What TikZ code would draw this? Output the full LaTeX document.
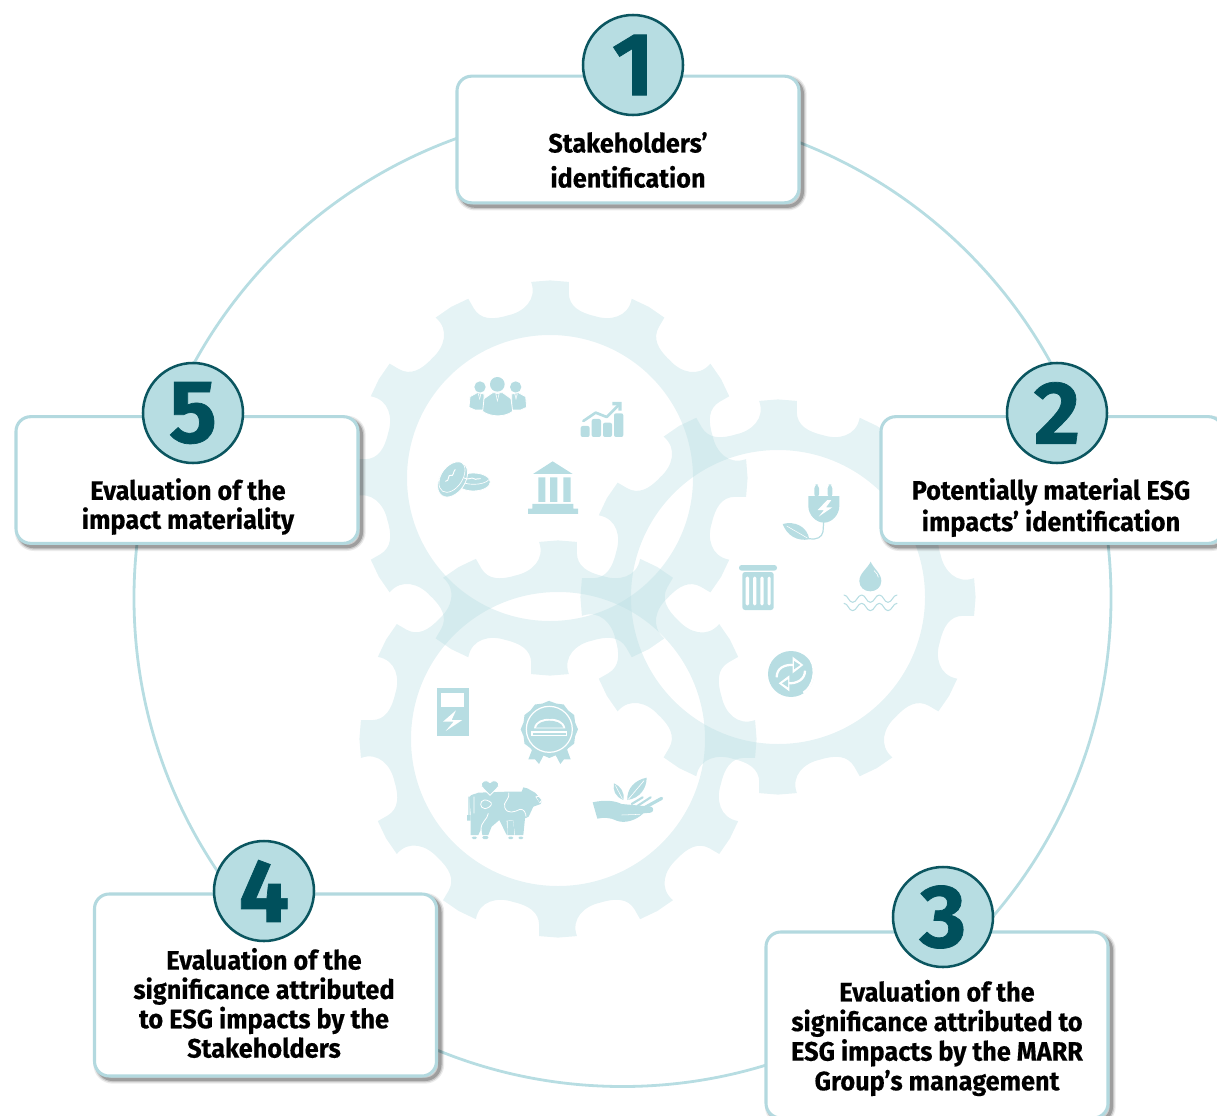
\documentclass[tikz,border=0pt]{standalone}
\usepackage{fontspec}
\setmainfont{Fira Sans}[BoldFeatures={FakeStretch=0.95,FakeBold=0.3}]
\newfontfamily\numfont{Fira Sans}[BoldFeatures={FakeBold=0.8}]
\definecolor{teal1}{HTML}{B7DDE2}
\definecolor{teal2}{HTML}{B3D9DF}
\definecolor{deep}{HTML}{00505C}
\definecolor{rim}{HTML}{0B5660}
\newcommand{\gearshape}[4]{%
  \fill[gearfill,even odd rule,shift={(#1,#2)}] ({-90-5.5}:#3)
  \foreach \a in {-90,-60,...,240}{
    -- (\a:#3+0.6) -- ({\a+5.5}:#3) -- ({\a+5.8}:#3-11)
    .. controls ({\a+6.3}:#3-24) and ({\a+10}:#3-29) .. ({\a+15.5}:#3-29)
    .. controls ({\a+21}:#3-29) and ({\a+26}:#3-18) .. ({\a+24.5}:#3)
  } -- cycle (0,0) circle (#4);}
\tikzset{
  gearfill/.style={fill=teal1,fill opacity=.36},
  ringline/.style={draw=teal1,line width=2.1pt,circle,minimum size=732.75pt,inner sep=0pt},
  card/.style={draw=teal2,line width=2.3pt,fill=white,rounded corners=11pt,inner sep=0pt,
    preaction={draw=black,draw opacity=.08,line width=6.5pt,transform canvas={xshift=2.5pt,yshift=-2.5pt}},
    preaction={draw=black,draw opacity=.14,line width=4.5pt,transform canvas={xshift=2.5pt,yshift=-2.5pt}},
    preaction={draw=black,draw opacity=.22,line width=2.5pt,transform canvas={xshift=2.5pt,yshift=-2.5pt}}},
  numdisc/.style={circle,draw=rim,line width=1.9pt,fill=teal1,minimum size=75pt,inner sep=0pt,
    text=deep,font=\fontsize{67}{67}\selectfont\numfont\bfseries},
  lab/.style 2 args={align=center,text=black,inner sep=0pt,font=\fontsize{#1}{#2}\selectfont\bfseries},
  icon/.style={fill=teal1,draw=none},
  cut/.style={draw=white,line width=.6pt},
  iline/.style={draw=teal1,line cap=round,line join=round},
}
\begin{document}
\begin{tikzpicture}[x=0.75pt,y=-0.75pt]
\useasboundingbox (0,0) rectangle (1217,1116);
\clip (0,0) rectangle (1217,1116);
\node[ringline] (ring) at (622.5,598) {};
\gearshape{550}{478}{197}{143}
\gearshape{778}{597}{197}{147}
\gearshape{558}{739}{198}{147}

% --- gear 1 icons
\begin{scope}[shift={(360,270)},scale=1/3]
 % people
 \fill[icon] (360,351) circle (17) (467,351) circle (17) (412,343) circle (22);
 \filldraw[icon,cut] (327,412) -- (330,380) -- (352,368) -- (372,372) -- (372,420) -- (345,420) -- cycle;
 \filldraw[icon,cut] (500,412) -- (497,380) -- (475,368) -- (455,372) -- (455,420) -- (482,420) -- cycle;
 \filldraw[icon,cut] (368,424) -- (372,386) -- (398,368) -- (428,368) -- (453,386) -- (458,424) .. controls (435,442) and (392,442) .. cycle;
 \fill[white] (406,368) -- (419,368) -- (412,396) -- cycle (354,371) -- (364,371) -- (359,390) -- cycle (463,371) -- (473,371) -- (468,390) -- cycle;
 \fill[icon] (409,372) -- (416,372) -- (412,388) -- cycle (357,372) -- (361,372) -- (359,384) -- cycle (466,372) -- (470,372) -- (468,384) -- cycle;
 % chart
 \fill[icon,rounded corners=1.5pt] (662,468) rectangle (689,501) (695,447) rectangle (723,501) (729,458) rectangle (756,501) (762,430) rectangle (790,501);
 \draw[iline,line width=2pt] (670,453) -- (707,428) -- (740,441) -- (776,405);
 \fill[icon] (757,396) -- (785,396) -- (785,422) -- (775,422) -- (775,406) -- (757,406) -- cycle;
 % coins
 \filldraw[icon,cut] (340,636) ellipse [x radius=51,y radius=27];
 \draw[white,line width=.5pt] (294,628) .. controls (310,648) and (372,648) .. (388,628);
 \begin{scope}[rotate around={57:(276,620)}]
  \filldraw[icon,cut] (270,626) ellipse [x radius=58,y radius=38];
  \draw[white,line width=.5pt] (276,620) ellipse [x radius=52,y radius=32];
 \end{scope}
 \draw[white,line width=.7pt] (256,634) .. controls (270,635) and (262,612) .. (272,616) .. controls (282,620) and (278,606) .. (286,598);
 \draw[white,line width=.7pt] (312,624) .. controls (325,632) and (335,620) .. (342,626) .. controls (348,632) and (355,622) .. (362,626);
 % bank
 \fill[icon] (519,612) -- (578,574) -- (638,612) -- cycle;
 \fill[icon] (535,622) rectangle (556,696) (570,622) rectangle (592,696) (610,622) rectangle (632,696);
 \fill[icon] (517,702) rectangle (640,716) (504,716) rectangle (654,732);
\end{scope}

% --- gear 2 icons
\begin{scope}[shift={(600,400)},scale=1/3]
 % plug
 \fill[icon,rounded corners=3pt] (643,253) rectangle (657,295) (683,253) rectangle (697,295);
 \fill[icon] (625,288) -- (718,288) -- (718,318) .. controls (718,345) and (695,368) .. (672,368) .. controls (648,368) and (625,345) .. (625,318) -- cycle;
 \fill[white] (682,300) -- (653,330) -- (672,330) -- (656,350) -- (697,322) -- (678,322) -- (694,300) -- cycle;
 \draw[iline,line width=.9pt] (671,365) -- (669,395) .. controls (666,412) and (650,420) .. (628,416);
 \fill[icon] (548,372) .. controls (585,362) and (622,380) .. (628,418) .. controls (590,425) and (560,405) .. cycle;
 \draw[white,line width=.4pt] (560,378) -- (622,414);
 % trash
 \fill[icon,rounded corners=2pt] (417,495) rectangle (531,512);
 \fill[icon,rounded corners=2pt] (427,516) rectangle (521,630);
 \fill[white,rounded corners=1pt] (437,530) rectangle (447,616) (459,530) rectangle (469,616) (481,530) rectangle (491,616) (503,530) rectangle (512,616);
 % drop
 \fill[icon] (812,485) .. controls (820,505) and (844,520) .. (844,543) .. controls (844,562) and (828,574) .. (811,574) .. controls (793,574) and (778,562) .. (778,543) .. controls (778,520) and (803,505) .. cycle;
 \draw[white,line width=.5pt] (822,512) .. controls (830,518) and (834,525) .. (835,532);
 \foreach \y in {585,610}{
  \draw[iline,line width=.8pt] (732,\y)
  \foreach \i in {0,1,2}{
    .. controls ({732+\i*53+12},\y) and ({732+\i*53+14},{\y+22}) .. ({732+\i*53+26},{\y+22})
    .. controls ({732+\i*53+38},{\y+22}) and ({732+\i*53+41},\y) .. ({732+\i*53+53},\y)
  };
 }
 % recycle
 \fill[icon] (573,822) circle (69);
 \draw[white,line width=1.6pt] (632,780) .. controls (650,810) and (640,860) .. (610,878);
 \draw[white,line width=1.7pt] (530,832) .. controls (530,805) and (552,792) .. (585,795);
 \fill[white] (578,770) -- (610,795) -- (578,820) -- cycle;
 \draw[white,line width=1.7pt] (615,812) .. controls (615,838) and (592,852) .. (560,850);
 \fill[white] (568,826) -- (536,850) -- (568,874) -- cycle;
 \fill[icon] (582,783) -- (601,795) -- (582,808) -- cycle (564,838) -- (546,850) -- (564,862) -- cycle;
\end{scope}

% --- gear 3 icons
\begin{scope}[shift={(350,600)},scale=1/3]
 % charger
 \fill[icon] (260,263) rectangle (356,408);
 \fill[white] (273,279) rectangle (343,320);
 \fill[white] (318,331) -- (279,365) -- (311,365) -- (287,393) -- (337,360) -- (305,360) -- cycle;
 % badge
 \fill[icon] (598,303) \foreach \k in {1,...,24}{ -- ({598+(mod(\k,2)*(-6)+86)*sin(\k*15)},{388-(mod(\k,2)*(-6)+86)*cos(\k*15)}) } -- cycle;
 \fill[icon] (550,440) -- (535,478) -- (555,478) -- (567,492) -- (585,458) -- cycle;
 \fill[icon] (648,440) -- (662,478) -- (642,478) -- (631,492) -- (613,458) -- cycle;
 \draw[white,line width=.9pt] (598,388) circle (69);
 \fill[white] (552,385) .. controls (555,362) and (580,356) .. (598,356) .. controls (620,356) and (642,362) .. (646,385) -- cycle;
 \fill[icon] (558,383) .. controls (562,368) and (582,362) .. (598,362) .. controls (615,362) and (636,368) .. (640,383) -- cycle;
 \fill[white] (544,394) rectangle (652,408);
 \fill[icon] (549,398) rectangle (647,404);
 \fill[icon] (599,348) circle (9);
 % cow
 \fill[icon] (358,592) .. controls (362,582) and (375,583) .. (385,578) -- (470,575) -- (515,575) -- (520,562) -- (532,565) -- (555,578) -- (576,600) -- (572,612) -- (550,620) -- (536,650) -- (525,655) -- (520,705) -- (495,705) -- (490,662) -- (476,660) -- (470,705) -- (448,660) -- (425,680) -- (415,705) -- (397,705) -- (394,685) -- (385,705) -- (362,705) -- (362,640) -- cycle;
 \fill[white] (470,662) -- (490,662) -- (473,705) -- cycle;
 \fill[icon] (473,662) -- (490,662) -- (493,705) -- (472,705) -- cycle;
 \fill[icon] (351,645) rectangle (362,662) (355,590) rectangle (359,650);
 \fill[icon,rounded corners=1pt] (365,710) rectangle (381,717) (397,708) rectangle (415,717) (474,710) rectangle (490,717) (505,710) rectangle (520,717);
 \draw[white,line width=.6pt] (476,578) .. controls (480,600) and (458,605) .. (464,622) .. controls (472,645) and (495,635) .. (510,628) .. controls (522,626) and (528,640) .. (528,650);
 \draw[white,line width=.6pt] (403,600) .. controls (388,602) and (388,625) .. (405,626) .. controls (425,622) and (430,608) .. (418,604) .. controls (412,600) and (408,600) .. cycle;
 \draw[white,line width=.6pt] (372,590) -- (372,640) (415,640) .. controls (412,660) and (392,665) .. (393,690);
 \fill[white] (556,590) -- (566,587) -- (578,600) -- (570,610) -- cycle;
 \fill[icon] (560,592) -- (566,591) -- (574,600) -- (568,606) -- cycle;
 \filldraw[icon,cut] (420,586) -- (395,560) .. controls (388,545) and (410,535) .. (420,548) .. controls (430,535) and (452,545) .. (445,560) -- cycle;
 % hand
 \fill[icon] (728,607) .. controls (760,600) and (790,600) .. (815,612) -- (903,620) .. controls (912,622) and (912,636) .. (902,638) -- (880,640) .. controls (860,660) and (825,672) .. (800,662) .. controls (780,652) and (760,652) .. (742,656) -- cycle;
 \draw[iline,line width=2.4pt] (880,625) -- (935,595);
 \draw[iline,line width=1.6pt] (862,618) -- (902,592) (845,612) -- (878,592);
 \draw[white,line width=.4pt] (815,645) -- (870,643);
 \fill[icon] (832,600) .. controls (830,565) and (855,540) .. (890,533) .. controls (890,565) and (870,595) .. cycle;
 \draw[white,line width=.5pt] (835,598) -- (882,542);
 \fill[icon] (820,600) .. controls (795,590) and (788,570) .. (792,550) .. controls (812,558) and (825,578) .. cycle;
 \draw[white,line width=.4pt] (817,596) -- (796,556);
\end{scope}

% --- cards
\node[card,minimum width=256.5pt,minimum height=95pt] (card1) at (628,139.5) {};
\node[card,minimum width=256.5pt,minimum height=95pt] (card2) at (1052,480) {};
\node[card,minimum width=256.5pt,minimum height=139.5pt] (card3) at (937,1025) {};
\node[card,minimum width=256.5pt,minimum height=136.5pt] (card4) at (265.5,985) {};
\node[card,minimum width=256.5pt,minimum height=95pt] (card5) at (187,480) {};

\node[numdisc] (n1) at (633,65) {1};
\node[numdisc] (n2) at (1057,413) {2};
\node[numdisc] (n3) at (943,917) {3};
\node[numdisc] (n4) at (264,891) {4};
\node[numdisc] (n5) at (193,413) {5};

\node[lab={20}{26.25}] (t1) at (628,160) {Stakeholders’\\identification};
\node[lab={20}{23.6}] (t2) at (1051,507.5) {Potentially material ESG\\impacts’ identification};
\node[lab={20}{22.2}] (t3) at (937,1038) {Evaluation of the\\significance attributed to\\ESG impacts by the MARR\\Group’s management};
\node[lab={20}{22}] (t4) at (264,1003) {Evaluation of the\\significance attributed\\to ESG impacts by the\\Stakeholders};
\node[lab={20}{21.8}] (t5) at (188,506.5) {Evaluation of the\\impact materiality};
\end{tikzpicture}
\end{document}
